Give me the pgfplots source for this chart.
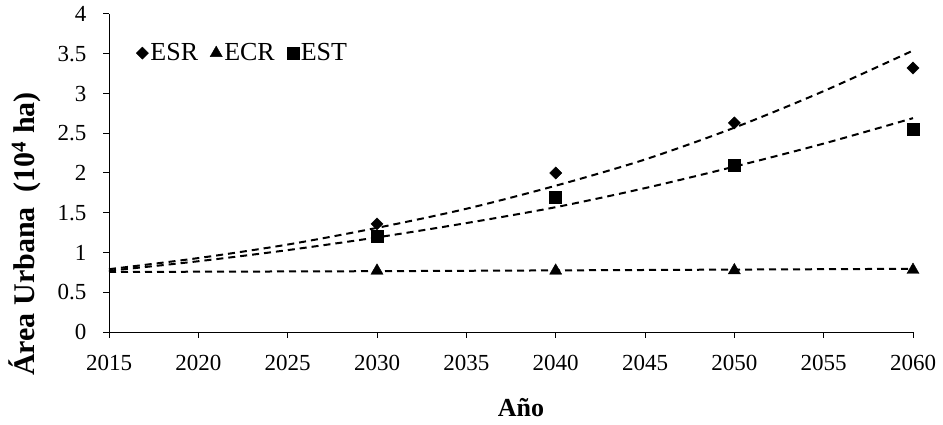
\documentclass[border=0pt]{standalone}
\usepackage{pgfplots}
\pgfplotsset{compat=1.18}
\usepackage{fontspec}
\setmainfont{Liberation Serif}
\begin{document}
\begin{tikzpicture}
\path[use as bounding box] (-109bp,-93bp) rectangle (834bp,332bp);
\begin{axis}[
  scale only axis,
  width=804bp, height=318bp,
  xmin=2015, xmax=2060, ymin=0, ymax=4,
  xtick={2015,2020,...,2060},
  ytick={0,0.5,...,4},
  axis lines=left,
  axis line style={-, line width=1bp},
  major tick style={line width=1bp, black},
  tick align=outside,
  major tick length=6bp,
  xticklabel={\pgfmathprintnumber[assume math mode=true,set thousands separator={}]{\tick}},
  yticklabel={\pgfmathprintnumber[assume math mode=true,fixed]{\tick}},
  tick label style={font=\rmfamily\fontsize{23bp}{27bp}\selectfont},
  xticklabel style={yshift=-14bp},
  yticklabel style={xshift=-13bp},
  legend style={at={(0.03,0.877)}, anchor=west, draw=none, fill=none,
    font=\rmfamily\fontsize{26bp}{30bp}\selectfont, legend columns=-1,
    /tikz/every even column/.append style={column sep=10bp}},
  legend image code/.code={\draw[#1] plot coordinates {(0.35em,0)};},
  clip=false,
]
% trend lines
\addplot[forget plot, black, line width=2bp, dash pattern=on 7bp off 5bp, smooth] coordinates {
 (2015,0.79) (2020,0.93) (2025,1.10) (2030,1.31) (2035,1.55) (2040,1.84) (2045,2.17) (2050,2.57) (2055,3.03) (2060,3.54)};
\addplot[forget plot, black, line width=2bp, dash pattern=on 7bp off 5bp, smooth] coordinates {
 (2015,0.77) (2020,0.89) (2025,1.03) (2030,1.19) (2035,1.37) (2040,1.57) (2045,1.81) (2050,2.08) (2055,2.37) (2060,2.69)};
\addplot[forget plot, black, line width=2bp, dash pattern=on 7bp off 5bp] coordinates {
 (2015,0.755) (2030,0.765) (2040,0.775) (2050,0.785) (2060,0.795)};
% data
\addplot[only marks, mark=square*, mark options={rotate=45}, mark size=4.3bp, black] coordinates {
 (2030,1.36) (2040,2.00) (2050,2.63) (2060,3.32)};
\addlegendentry{ESR}
\addplot[only marks, mark=triangle*, mark size=7bp, black] coordinates {
 (2030,0.77) (2040,0.77) (2050,0.775) (2060,0.78)};
\addlegendentry{ECR}
\addplot[only marks, mark=square*, mark size=6bp, black] coordinates {
 (2030,1.20) (2040,1.69) (2050,2.10) (2060,2.55)};
\addlegendentry{EST}
\end{axis}
\node[rotate=90, font=\bfseries\fontsize{30bp}{34bp}\selectfont] at (-84bp,98bp) {Área Urbana\ \ (10\textsuperscript{4} ha)};
\node[font=\bfseries\fontsize{26bp}{30bp}\selectfont] at (412bp,-76bp) {Año};
\end{tikzpicture}
\end{document}
